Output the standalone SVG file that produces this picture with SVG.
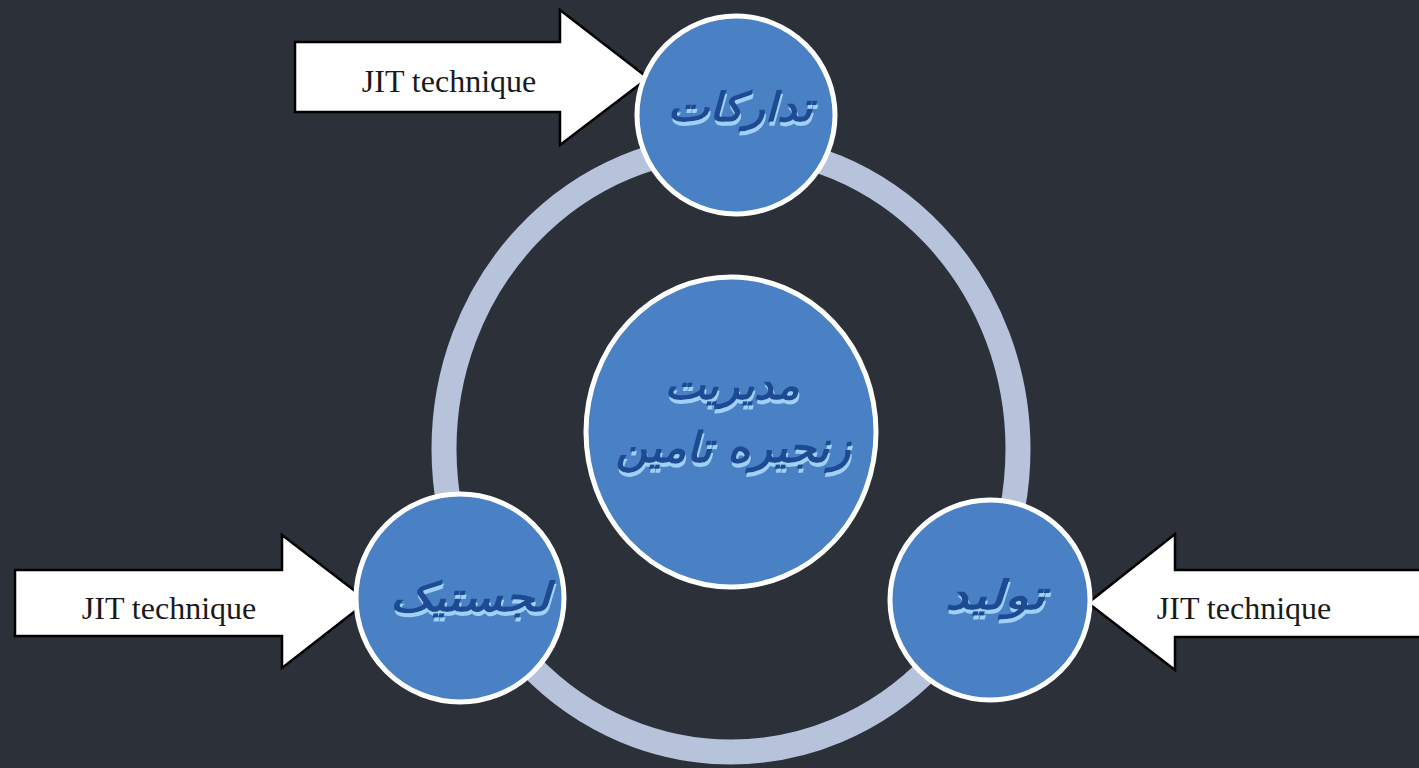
<svg xmlns="http://www.w3.org/2000/svg" width="1419" height="768" viewBox="0 0 1419 768">
  <style>
    .node { fill: #4a80c4; stroke: #ffffff; stroke-width: 5; }
    .ring { fill: none; stroke: #b7c2db; stroke-width: 25; }
    .arrow { fill: #ffffff; stroke: #000000; stroke-width: 2.5; stroke-linejoin: miter; }
    .lbl { font-family: "Liberation Serif", "Times New Roman", serif; font-size: 32px; fill: #1a1a1a; text-anchor: middle; }
    .fa { font-family: "DejaVu Sans", "Noto Sans", sans-serif; font-weight: bold; font-style: italic; text-anchor: middle; direction: rtl; fill: #1d4c93; filter: url(#shine); }
  </style>
  <defs>
    <!-- pale under-glow beneath the Persian labels -->
    <filter id="shine" x="-10%" y="-30%" width="120%" height="170%">
      <feOffset in="SourceAlpha" dx="1" dy="4" result="off"/>
      <feFlood flood-color="#9fd0f6"/>
      <feComposite in2="off" operator="in" result="glow"/>
      <feMerge>
        <feMergeNode in="glow"/>
        <feMergeNode in="SourceGraphic"/>
      </feMerge>
    </filter>
  </defs>
  <rect width="1419" height="768" fill="#2b3039"/>

  <!-- cycle ring behind the nodes, plus the JIT arrows -->
  <g id="connectors">
    <ellipse class="ring" cx="731" cy="449" rx="287" ry="303"/>
    <g id="arrow-top">
      <polygon class="arrow" points="295,42 560,42 560,10 648,78 560,145 560,112 295,112"/>
      <text class="lbl" x="449" y="92">JIT technique</text>
    </g>
    <g id="arrow-left">
      <polygon class="arrow" points="15,570 282,570 282,535 368,601 282,668 282,636 15,636"/>
      <text class="lbl" x="169" y="619">JIT technique</text>
    </g>
    <g id="arrow-right">
      <polygon class="arrow" points="1425,570 1175,570 1175,534 1088,603 1175,670 1175,637 1425,637"/>
      <text class="lbl" x="1244" y="619">JIT technique</text>
    </g>
  </g>

  <g id="node-procurement">
    <circle class="node" cx="736" cy="115" r="99"/>
    <text class="fa" x="740" y="121" font-size="40" textLength="145" lengthAdjust="spacingAndGlyphs">تدارکات</text>
  </g>

  <g id="node-center">
    <ellipse class="node" cx="731" cy="432" rx="145" ry="155"/>
    <text class="fa" x="732" y="399" font-size="40" textLength="135" lengthAdjust="spacingAndGlyphs">مدیریت</text>
    <text class="fa" x="733" y="462" font-size="42" textLength="235" lengthAdjust="spacingAndGlyphs">زنجیره تامین</text>
  </g>

  <g id="node-logistics">
    <circle class="node" cx="460" cy="598" r="104"/>
    <text class="fa" x="470" y="611" font-size="40" textLength="160" lengthAdjust="spacingAndGlyphs">لجستیک</text>
  </g>

  <g id="node-production">
    <circle class="node" cx="990" cy="600" r="100"/>
    <text class="fa" x="995" y="609" font-size="40" textLength="100" lengthAdjust="spacingAndGlyphs">تولید</text>
  </g>
</svg>
